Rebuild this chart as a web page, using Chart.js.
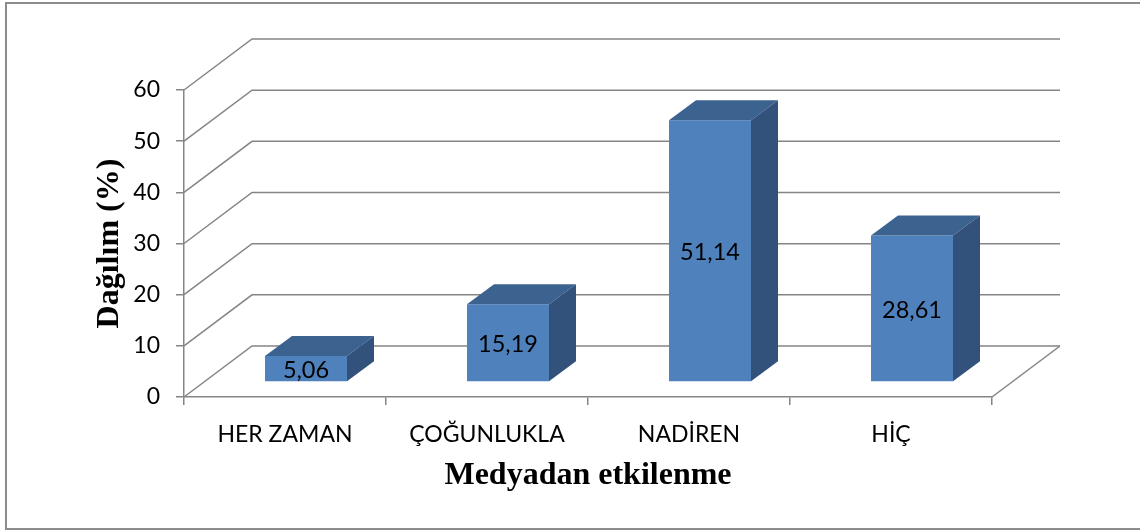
<!DOCTYPE html>
<html>
<head>
<meta charset="utf-8">
<script src="https://cdn.jsdelivr.net/npm/chart.js@4"></script>
<style>
html,body{margin:0;padding:0;background:#fff;}
#wrap{width:1140px;height:531px;position:relative;}
</style>
</head>
<body>
<div id="wrap"><canvas id="c"></canvas></div>
<script>
const categories = ['HER ZAMAN', 'ÇOĞUNLUKLA', 'NADİREN', 'HİÇ'];
const values = [5.06, 15.19, 51.14, 28.61];
const valueLabels = ['5,06', '15,19', '51,14', '28,61'];
const yTicks = [0, 10, 20, 30, 40, 50, 60];
const yTitle = 'Dağılım (%)';
const xTitle = 'Medyadan etkilenme';

const GRID = '#858585';
const FRONT = '#4f81bd';
const TOP = '#3c6290';
const SIDE = '#32527c';
// perspective offsets
const WALL_DX = 68, WALL_DY = -51;
const BAR_SHIFT_X = 21, BAR_SHIFT_Y = -15;
const BAR_DX = 27, BAR_DY = -20;
const LABEL_FONT = 'Lato, "Open Sans", sans-serif';

const threeD = {
  id: 'threeD',
  beforeDraw(chart) {
    const ctx = chart.ctx;
    ctx.save();
    ctx.fillStyle = '#fff';
    ctx.fillRect(0, 0, chart.width, chart.height);
    ctx.strokeStyle = '#8c8c8c';
    ctx.lineWidth = 2;
    ctx.strokeRect(6, 3, chart.width + 10, 526);
    // walls
    const y = chart.scales.y, x = chart.scales.x;
    const L = x.left, R = x.right;
    ctx.strokeStyle = GRID;
    ctx.lineWidth = 1.5;
    yTicks.forEach(v => {
      const py = y.getPixelForValue(v);
      ctx.beginPath();
      ctx.moveTo(L, py);
      ctx.lineTo(L + WALL_DX, py + WALL_DY);
      ctx.lineTo(R + WALL_DX, py + WALL_DY);
      ctx.stroke();
    });
    const p0 = y.getPixelForValue(0);
    ctx.beginPath();
    ctx.moveTo(R, p0);
    ctx.lineTo(R + WALL_DX, p0 + WALL_DY);
    ctx.stroke();
    ctx.restore();
  },
  beforeDatasetsDraw(chart) {
    chart.ctx.save();
    chart.ctx.translate(BAR_SHIFT_X, BAR_SHIFT_Y);
  },
  afterDatasetsDraw(chart) {
    const ctx = chart.ctx;
    const meta = chart.getDatasetMeta(0);
    meta.data.forEach((bar, i) => {
      const p = bar.getProps(['x', 'y', 'base', 'width'], true);
      const l = p.x - p.width / 2, r = p.x + p.width / 2, t = p.y, b = p.base;
      ctx.fillStyle = TOP;
      ctx.beginPath();
      ctx.moveTo(l, t); ctx.lineTo(r, t);
      ctx.lineTo(r + BAR_DX, t + BAR_DY); ctx.lineTo(l + BAR_DX, t + BAR_DY);
      ctx.closePath(); ctx.fill();
      ctx.fillStyle = SIDE;
      ctx.beginPath();
      ctx.moveTo(r, t); ctx.lineTo(r + BAR_DX, t + BAR_DY);
      ctx.lineTo(r + BAR_DX, b + BAR_DY); ctx.lineTo(r, b);
      ctx.closePath(); ctx.fill();
      ctx.fillStyle = '#000';
      ctx.font = '23.5px ' + LABEL_FONT;
      ctx.textAlign = 'center';
      ctx.textBaseline = 'middle';
      ctx.fillText(valueLabels[i], p.x, (t + b) / 2 + 2);
    });
    ctx.restore();
  }
};

new Chart(document.getElementById('c'), {
  type: 'bar',
  data: {
    labels: categories,
    datasets: [{
      data: values,
      backgroundColor: FRONT,
      borderWidth: 0,
      barPercentage: 0.406,
      categoryPercentage: 1,
      clip: false
    }]
  },
  options: {
    responsive: true,
    maintainAspectRatio: false,
    animation: false,
    events: [],
    layout: { padding: { top: 90, right: 148, left: 0, bottom: 0 } },
    plugins: { legend: { display: false }, tooltip: { enabled: false } },
    scales: {
      x: {
        grid: { display: true, drawOnChartArea: false, drawTicks: true, tickLength: 8, color: GRID, lineWidth: 1.5, offset: true },
        border: { display: true, color: GRID, width: 1.5 },
        ticks: { color: '#000', font: { family: LABEL_FONT, size: 23 }, padding: 16, maxRotation: 0 },
        title: { display: true, text: xTitle, color: '#000', font: { family: '"Liberation Serif", "Times New Roman", serif', size: 32, weight: 'bold' }, padding: 36 },
        afterFit(s) { s.height = 134; }
      },
      y: {
        min: 0, max: 60,
        afterBuildTicks(s) { s.ticks = yTicks.map(v => ({ value: v })); },
        grid: { display: true, drawOnChartArea: false, drawTicks: true, tickLength: 8, color: GRID, lineWidth: 1.5 },
        border: { display: true, color: GRID, width: 1.5 },
        ticks: { color: '#000', font: { family: LABEL_FONT, size: 23 }, padding: 16 },
        title: { display: true, text: yTitle, color: '#000', font: { family: '"Liberation Serif", "Times New Roman", serif', size: 32, weight: 'bold' }, padding: 91 },
        afterFit(s) { s.width = 184; }
      }
    }
  },
  plugins: [threeD]
});
</script>
</body>
</html>
